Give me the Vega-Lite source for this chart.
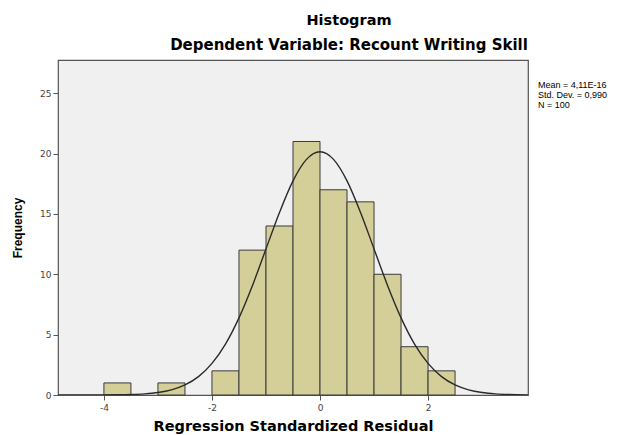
{
  "$schema": "https://vega.github.io/schema/vega-lite/v6.json",
  "autosize": "none",
  "width": 470,
  "height": 335,
  "padding": {"left": 58, "top": 60, "right": 105, "bottom": 40},
  "background": "white",
  "config": {
    "font": "Liberation Sans",
    "view": {"fill": "#f0f0f0", "stroke": "#555555", "strokeWidth": 1.2},
    "axis": {"grid": false, "domain": false, "tickColor": "#555555", "tickSize": 5, "labelFontSize": 9, "labelColor": "#444444", "titleFontWeight": "bold", "titleColor": "#000000"}
  },
  "title": {
    "text": "Histogram",
    "subtitle": "Dependent Variable: Recount Writing Skill",
    "font": "DejaVu Sans",
    "subtitleFont": "DejaVu Sans",
    "fontSize": 14.5,
    "subtitleFontSize": 15,
    "fontWeight": "bold",
    "subtitleFontWeight": "bold",
    "subtitleColor": "#000000",
    "subtitlePadding": 10,
    "anchor": "middle",
    "dx": 56,
    "offset": 6,
    "color": "#000000"
  },
  "datasets": {
    "bins": [
      {"lo": -4.0, "hi": -3.5, "count": 1},
      {"lo": -3.0, "hi": -2.5, "count": 1},
      {"lo": -2.0, "hi": -1.5, "count": 2},
      {"lo": -1.5, "hi": -1.0, "count": 12},
      {"lo": -1.0, "hi": -0.5, "count": 14},
      {"lo": -0.5, "hi": 0.0, "count": 21},
      {"lo": 0.0, "hi": 0.5, "count": 17},
      {"lo": 0.5, "hi": 1.0, "count": 16},
      {"lo": 1.0, "hi": 1.5, "count": 10},
      {"lo": 1.5, "hi": 2.0, "count": 4},
      {"lo": 2.0, "hi": 2.5, "count": 2}
    ],
    "curve": [
      {"x": -4.85, "y": 0.0},
      {"x": -4.5, "y": 0.0006},
      {"x": -4.25, "y": 0.002},
      {"x": -4.0, "y": 0.0057},
      {"x": -3.75, "y": 0.0154},
      {"x": -3.5, "y": 0.039},
      {"x": -3.25, "y": 0.092},
      {"x": -3.0, "y": 0.204},
      {"x": -2.75, "y": 0.425},
      {"x": -2.5, "y": 0.831},
      {"x": -2.25, "y": 1.52},
      {"x": -2.0, "y": 2.62},
      {"x": -1.75, "y": 4.22},
      {"x": -1.5, "y": 6.39},
      {"x": -1.25, "y": 9.08},
      {"x": -1.0, "y": 12.10},
      {"x": -0.75, "y": 15.12},
      {"x": -0.5, "y": 17.74},
      {"x": -0.25, "y": 19.52},
      {"x": 0.0, "y": 20.15},
      {"x": 0.25, "y": 19.52},
      {"x": 0.5, "y": 17.74},
      {"x": 0.75, "y": 15.12},
      {"x": 1.0, "y": 12.10},
      {"x": 1.25, "y": 9.08},
      {"x": 1.5, "y": 6.39},
      {"x": 1.75, "y": 4.22},
      {"x": 2.0, "y": 2.62},
      {"x": 2.25, "y": 1.52},
      {"x": 2.5, "y": 0.831},
      {"x": 2.75, "y": 0.425},
      {"x": 3.0, "y": 0.204},
      {"x": 3.25, "y": 0.092},
      {"x": 3.5, "y": 0.039},
      {"x": 3.85, "y": 0.010}
    ],
    "stats": [
      {"stat": "Mean = 4,11E-16", "order": 1},
      {"stat": "Std. Dev. = 0,990", "order": 2},
      {"stat": "N = 100", "order": 3}
    ]
  },
  "layer": [
    {
      "data": {"name": "bins"},
      "mark": {"type": "rect", "fill": "#d4cf98", "stroke": "#3a3a3a", "strokeWidth": 1},
      "encoding": {
        "x": {"field": "lo", "type": "quantitative", "scale": {"domain": [-4.85, 3.85], "nice": false, "zero": false},
              "axis": {"values": [-4, -2, 0, 2], "labelExpr": "datum.value < 0 ? '-' + abs(datum.value) : '' + datum.value", "labelFont": "DejaVu Sans", "title": "Regression Standardized Residual", "titleFont": "DejaVu Sans", "titleFontSize": 14.5, "titlePadding": 7, "labelPadding": 3}},
        "x2": {"field": "hi"},
        "y": {"field": "count", "type": "quantitative", "scale": {"domain": [0, 27.75], "nice": false},
              "axis": {"values": [0, 5, 10, 15, 20, 25], "labelFont": "DejaVu Sans", "title": "Frequency", "titleFontSize": 12, "titlePadding": 15, "labelPadding": 2}},
        "y2": {"datum": 0}
      }
    },
    {
      "data": {"name": "curve"},
      "mark": {"type": "line", "stroke": "#2a2a2a", "strokeWidth": 1.4, "interpolate": "monotone", "clip": true},
      "encoding": {
        "x": {"field": "x", "type": "quantitative"},
        "y": {"field": "y", "type": "quantitative"}
      }
    },
    {
      "data": {"name": "stats"},
      "mark": {"type": "point", "opacity": 0},
      "encoding": {
        "x": {"datum": 0},
        "y": {"datum": 0},
        "color": {"field": "stat", "type": "nominal", "sort": {"field": "order"},
                  "scale": {"range": ["#000000", "#000000", "#000000"]},
                  "legend": {"orient": "none", "legendX": 471, "legendY": 20, "title": null, "symbolSize": 0, "symbolStrokeWidth": 0, "symbolOpacity": 0, "labelOffset": 0, "labelFontSize": 9, "labelColor": "#000000", "rowPadding": -1, "padding": 0}}
      }
    }
  ]
}
